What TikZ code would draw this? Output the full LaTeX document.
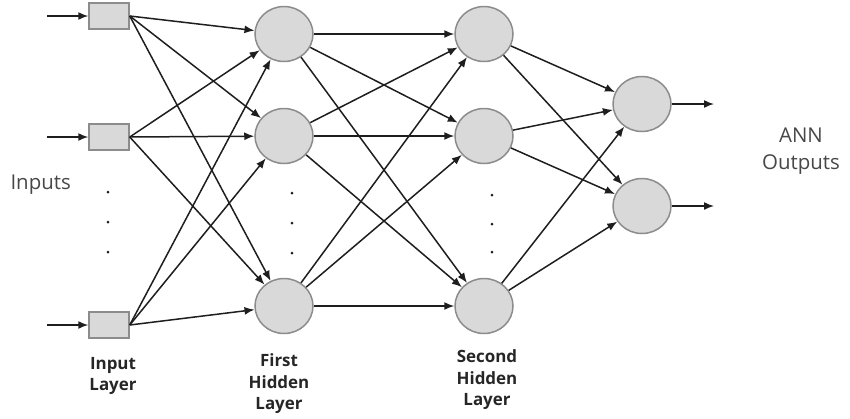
\documentclass[tikz,border=0pt]{standalone}
\usepackage{fontspec}
\setmainfont{Open Sans}
\usetikzlibrary{arrows.meta,shapes.geometric}
\definecolor{nodefill}{HTML}{D9D9D9}
\definecolor{nodeedge}{HTML}{8C8C8C}
\definecolor{linecol}{HTML}{1E1E1E}
\tikzset{
  inbox/.style={draw=nodeedge,fill=nodefill,line width=1.5bp,rectangle,minimum width=40bp,minimum height=26bp,inner sep=0pt},
  neuron/.style={draw=nodeedge,fill=nodefill,line width=1.5bp,ellipse,minimum width=58bp,minimum height=55bp,inner sep=0pt},
  conn/.style={draw=linecol,line width=1.5bp,-{Latex[length=10bp,width=8bp]}},
  dotmark/.style={fill=linecol,circle,inner sep=0pt,minimum size=3bp},
  lbl/.style={font=\fontsize{17}{21.5}\selectfont\bfseries,align=center,text=black!85},
  bigtxt/.style={font=\fontsize{20.5}{27}\selectfont,align=center,text=black!72}
}
\begin{document}
\begin{tikzpicture}[x=1bp,y=-1bp]
\useasboundingbox (0,0) rectangle (850,418);
% input boxes
\node[inbox] (i1) at (109,16) {};
\node[inbox] (i2) at (109,137) {};
\node[inbox] (i3) at (109,325) {};
% hidden 1
\node[neuron] (a1) at (284,34) {};
\node[neuron] (a2) at (284,136) {};
\node[neuron] (a3) at (284,306) {};
% hidden 2
\node[neuron] (b1) at (484,34) {};
\node[neuron] (b2) at (484,136) {};
\node[neuron] (b3) at (484,306) {};
% outputs
\node[neuron] (o1) at (642,104) {};
\node[neuron] (o2) at (642,206) {};
% free ends
\coordinate (s1) at (47,16);
\coordinate (s2) at (47,137);
\coordinate (s3) at (47,325);
\coordinate (e1) at (714,104);
\coordinate (e2) at (714,206);
% input arrows
\foreach \k in {1,2,3} \draw[conn] (s\k) -- (i\k);
% input -> hidden1
\foreach \k in {1,2,3}
  \foreach \j in {1,2,3}
    \draw[conn] (i\k.east) -- (a\j);
% hidden1 -> hidden2
\foreach \k in {1,2,3}
  \foreach \j in {1,2,3}
    \draw[conn] (a\k) -- (b\j);
% hidden2 -> outputs
\foreach \k in {1,2,3}
  \foreach \j in {1,2}
    \draw[conn] (b\k) -- (o\j);
% output arrows
\draw[conn] (o1) -- (e1);
\draw[conn] (o2) -- (e2);
% dots
\node[dotmark] (d1) at (108,192) {};
\node[dotmark] (d2) at (108,222) {};
\node[dotmark] (d3) at (108,252) {};
\node[dotmark] (d4) at (292,193) {};
\node[dotmark] (d5) at (292,223) {};
\node[dotmark] (d6) at (292,253) {};
\node[dotmark] (d7) at (492,195) {};
\node[dotmark] (d8) at (492,224) {};
\node[dotmark] (d9) at (492,252) {};
% texts
\node[bigtxt,anchor=west] (tin) at (7,185) {Inputs};
\node[bigtxt] (tout) at (801,151) {ANN\\Outputs};
\node[lbl] (lin) at (113,376) {Input\\Layer};
\node[lbl] (lh1) at (279,384) {First\\Hidden\\Layer};
\node[lbl] (lh2) at (487,380) {Second\\Hidden\\Layer};
\end{tikzpicture}
\end{document}
